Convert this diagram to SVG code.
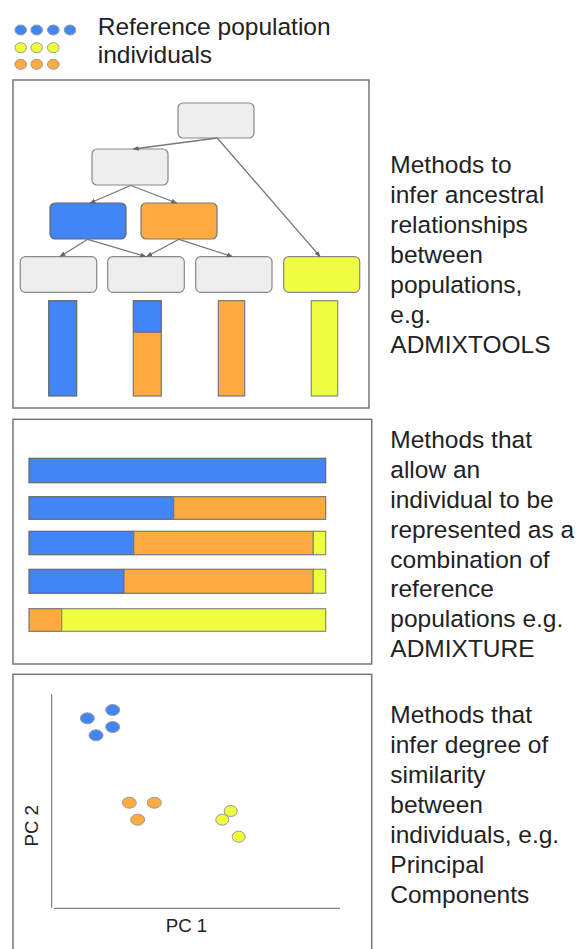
<svg xmlns="http://www.w3.org/2000/svg" width="584" height="949" viewBox="0 0 584 949">
<style>
text{font-family:"Liberation Sans",Arial,sans-serif;fill:#222}
.lbl{font-size:24.5px}
.ax{font-size:18.7px}
.frame{fill:none;stroke:#777;stroke-width:1.5}
.gray{fill:#eeeeee;stroke:#888;stroke-width:1.2}
.blue{fill:#4285f4;stroke:#666;stroke-width:1.2}
.orange{fill:#ffab40;stroke:#777;stroke-width:1.2}
.yellow{fill:#eeff41;stroke:#888;stroke-width:1.2}
.dot{stroke:#999;stroke-width:1}
.conn line{stroke:#777;stroke-width:1.3;marker-end:url(#ah)}
.axis{stroke:#666;stroke-width:1}
</style>
<defs>
<marker id="ah" viewBox="0 0 10 10" refX="9" refY="5" markerWidth="6" markerHeight="6" markerUnits="userSpaceOnUse" orient="auto">
<path d="M0,1 L10,5 L0,9 z" fill="#666"/>
</marker>
</defs>
<rect width="584" height="949" fill="#fff"/>

<g id="legend">
<ellipse class="dot" cx="20.7" cy="30" rx="5.8" ry="5" fill="#4285f4"/>
<ellipse class="dot" cx="36.7" cy="30" rx="5.8" ry="5" fill="#4285f4"/>
<ellipse class="dot" cx="53.3" cy="30" rx="5.8" ry="5" fill="#4285f4"/>
<ellipse class="dot" cx="70" cy="30" rx="5.8" ry="5" fill="#4285f4"/>
<ellipse class="dot" cx="20.7" cy="47.7" rx="5.8" ry="5" fill="#eeff41"/>
<ellipse class="dot" cx="36.7" cy="47.7" rx="5.8" ry="5" fill="#eeff41"/>
<ellipse class="dot" cx="53.3" cy="47.7" rx="5.8" ry="5" fill="#eeff41"/>
<ellipse class="dot" cx="20.7" cy="64.3" rx="5.8" ry="5" fill="#ffab40"/>
<ellipse class="dot" cx="36.7" cy="64.3" rx="5.8" ry="5" fill="#ffab40"/>
<ellipse class="dot" cx="53.3" cy="64.3" rx="5.8" ry="5" fill="#ffab40"/>
<text class="lbl" x="97.7" y="35">Reference population</text>
<text class="lbl" x="97.7" y="63.3">individuals</text>
</g>

<g id="panel1">
<rect class="frame" x="13" y="80" width="356" height="328"/>
</g>
<g id="node-root"><rect class="gray" x="178" y="103" width="76" height="35" rx="5"/></g>
<g id="node-mid"><rect class="gray" x="92" y="149" width="76" height="36" rx="5"/></g>
<g id="node-blue"><rect class="blue" x="50" y="203" width="76" height="36" rx="5"/></g>
<g id="node-orange"><rect class="orange" x="141" y="203" width="76" height="36" rx="5"/></g>
<g id="node-leaf1"><rect class="gray" x="20.3" y="256.7" width="76.4" height="35.6" rx="5"/></g>
<g id="node-leaf2"><rect class="gray" x="107.7" y="256.7" width="76.6" height="35.6" rx="5"/></g>
<g id="node-leaf3"><rect class="gray" x="195.7" y="256.7" width="76.3" height="35.6" rx="5"/></g>
<g id="node-yellow"><rect class="yellow" x="283.7" y="256.7" width="76" height="35.6" rx="5"/></g>

<g id="connectors" class="conn">
<line x1="217.3" y1="138" x2="133.3" y2="149"/>
<line x1="217.3" y1="138" x2="320" y2="256.5"/>
<line x1="130.7" y1="185.5" x2="90" y2="203"/>
<line x1="130.7" y1="185.5" x2="176.7" y2="203"/>
<line x1="87.7" y1="239.3" x2="60" y2="256.5"/>
<line x1="87.7" y1="239.3" x2="145.7" y2="256.5"/>
<line x1="179" y1="239.3" x2="146.7" y2="256.5"/>
<line x1="179" y1="239.3" x2="232.3" y2="256.5"/>
</g>

<g id="bars-vertical">
<rect class="blue" x="48.7" y="300.7" width="28" height="95.3"/>
<rect class="blue" x="133.3" y="300.7" width="28" height="31.6"/>
<rect class="orange" x="133.3" y="332.3" width="28" height="63.7"/>
<rect class="orange" x="218.3" y="300.7" width="26.4" height="95.3"/>
<rect class="yellow" x="311.3" y="300.7" width="26.4" height="95.3"/>
</g>

<g id="text1">
<text class="lbl" x="390.3" y="173.3">Methods to</text>
<text class="lbl" x="390.3" y="203.3">infer ancestral</text>
<text class="lbl" x="390.3" y="233.3">relationships</text>
<text class="lbl" x="390.3" y="263.3">between</text>
<text class="lbl" x="390.3" y="293.3">populations,</text>
<text class="lbl" x="390.3" y="323.3">e.g.</text>
<text class="lbl" x="390.3" y="353.3">ADMIXTOOLS</text>
</g>

<g id="panel2">
<rect class="frame" x="13" y="419.3" width="358.7" height="244.7"/>
<rect class="blue" x="29" y="458.3" width="296.7" height="24.4"/>
<rect class="blue" x="29" y="496.7" width="144.7" height="22.6"/>
<rect class="orange" x="173.7" y="496.7" width="152" height="22.6"/>
<rect class="blue" x="29" y="531.3" width="104.7" height="23.4"/>
<rect class="orange" x="133.7" y="531.3" width="179.6" height="23.4"/>
<rect class="yellow" x="313.3" y="531.3" width="12.4" height="23.4"/>
<rect class="blue" x="29" y="569.3" width="95" height="24"/>
<rect class="orange" x="124" y="569.3" width="189.3" height="24"/>
<rect class="yellow" x="313.3" y="569.3" width="12.4" height="24"/>
<rect class="orange" x="29" y="608.7" width="32.7" height="22.6"/>
<rect class="yellow" x="61.7" y="608.7" width="264" height="22.6"/>
</g>

<g id="text2">
<text class="lbl" x="390.3" y="448.3">Methods that</text>
<text class="lbl" x="390.3" y="478.1">allow an</text>
<text class="lbl" x="390.3" y="507.9">individual to be</text>
<text class="lbl" x="390.3" y="537.7">represented as a</text>
<text class="lbl" x="390.3" y="567.5">combination of</text>
<text class="lbl" x="390.3" y="597.3">reference</text>
<text class="lbl" x="390.3" y="627.1">populations e.g.</text>
<text class="lbl" x="390.3" y="656.9">ADMIXTURE</text>
</g>

<g id="panel3">
<rect class="frame" x="13" y="674.3" width="358.7" height="290"/>
<line class="axis" x1="51.7" y1="694.3" x2="51.7" y2="907.7"/>
<line class="axis" x1="54" y1="908.3" x2="340" y2="908.3"/>
<text class="ax" x="165.7" y="931.7">PC 1</text>
<text class="ax" x="0" y="0" text-anchor="middle" transform="translate(38.3 825.8) rotate(-90)">PC 2</text>
<ellipse class="dot" cx="87.3" cy="718.3" rx="7" ry="5.5" fill="#4285f4"/>
<ellipse class="dot" cx="112.7" cy="710" rx="7" ry="5.5" fill="#4285f4"/>
<ellipse class="dot" cx="112.7" cy="727" rx="7" ry="5.5" fill="#4285f4"/>
<ellipse class="dot" cx="96" cy="735.3" rx="7" ry="5.5" fill="#4285f4"/>
<ellipse class="dot" cx="129.3" cy="802.7" rx="7" ry="5.5" fill="#ffab40"/>
<ellipse class="dot" cx="154.3" cy="802.7" rx="7" ry="5.5" fill="#ffab40"/>
<ellipse class="dot" cx="137.7" cy="819.7" rx="7" ry="5.5" fill="#ffab40"/>
<ellipse class="dot" cx="230.7" cy="811" rx="6.5" ry="5.5" fill="#eeff41"/>
<ellipse class="dot" cx="222.3" cy="819.7" rx="6.5" ry="5.5" fill="#eeff41"/>
<ellipse class="dot" cx="238.7" cy="836.7" rx="6.5" ry="5.5" fill="#eeff41"/>
</g>

<g id="text3">
<text class="lbl" x="390.3" y="723.3">Methods that</text>
<text class="lbl" x="390.3" y="753.3">infer degree of</text>
<text class="lbl" x="390.3" y="783.3">similarity</text>
<text class="lbl" x="390.3" y="813.3">between</text>
<text class="lbl" x="390.3" y="843.3">individuals, e.g.</text>
<text class="lbl" x="390.3" y="873.3">Principal</text>
<text class="lbl" x="390.3" y="903.3">Components</text>
</g>
</svg>
